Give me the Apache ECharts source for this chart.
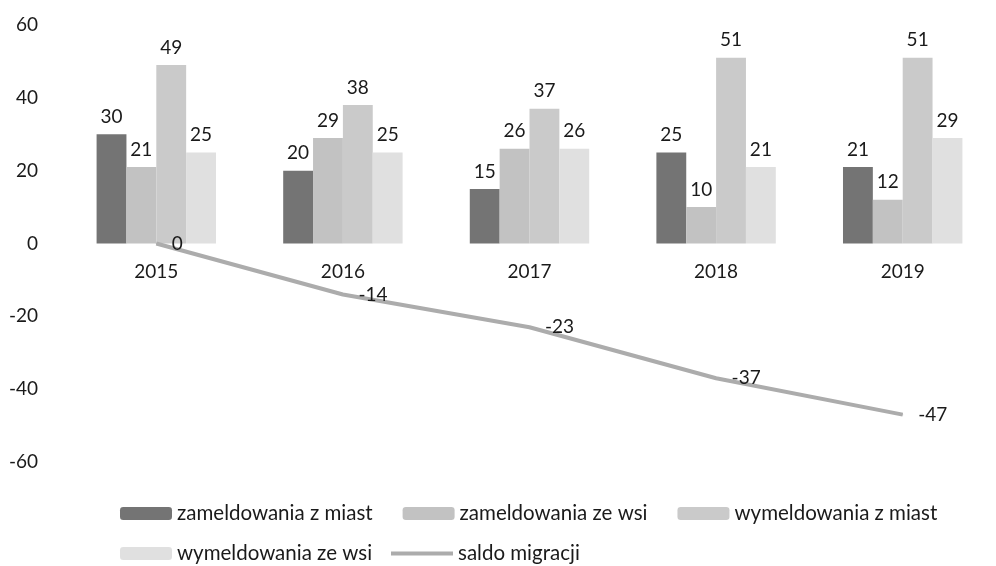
<!DOCTYPE html>
<html><head><meta charset="utf-8">
<script src="https://cdn.jsdelivr.net/npm/echarts@6/dist/echarts.min.js"></script>
<style>html,body{margin:0;padding:0;background:#fff}#c{width:996px;height:566px}</style>
</head><body><div id="c"></div>
<script>
const years = ['2015','2016','2017','2018','2019'];
const zamMiast = [30,20,15,25,21];
const zamWies = [21,29,26,10,12];
const wymMiast = [49,38,37,51,51];
const wymWies = [25,25,26,21,29];
const saldo = [0,-14,-23,-37,-47];
const yTicks = {min:-60,max:60,interval:20};

const FONT = 'Lato';
const FS = 19;
const chart = echarts.init(document.getElementById('c'));
const lbl = {show:true,position:'top',fontSize:FS,color:'#1a1a1a',fontFamily:FONT,distance:8};
function bar(name,data,color){
  return {name,type:'bar',data,barGap:'0%',barCategoryGap:'36%',itemStyle:{color},label:lbl};
}
const legText = {fontSize:20.5,color:'#1a1a1a',fontFamily:FONT};
chart.setOption({
  animation:false,
  textStyle:{fontFamily:FONT},
  grid:{left:63,top:25,width:970,height:437},
  xAxis:{type:'category',data:years,axisLine:{show:false},axisTick:{show:false},
    axisLabel:{fontSize:FS,color:'#1a1a1a',fontFamily:FONT,margin:0,
      verticalAlign:'top', padding:[20,0,0,0]},
    position:'bottom', offset:-220},
  yAxis:{type:'value',min:yTicks.min,max:yTicks.max,interval:yTicks.interval,
    axisLine:{show:false},axisTick:{show:false},splitLine:{show:false},
    axisLabel:{fontSize:FS,color:'#1a1a1a',fontFamily:FONT,margin:25}},
  legend:[
    {left:115,top:498,itemWidth:52,itemHeight:13,itemGap:30,textStyle:legText,
     data:['zameldowania z miast','zameldowania ze wsi','wymeldowania z miast']},
    {left:115,top:538,itemWidth:52,itemHeight:13,itemGap:8,textStyle:legText,
     data:['wymeldowania ze wsi']},
    {left:386,top:538,itemWidth:62,itemHeight:4,itemGap:8,textStyle:legText,
     data:[{name:'saldo migracji',icon:'rect'}]}
  ],
  series:[
    bar('zameldowania z miast',zamMiast,'#747474'),
    bar('zameldowania ze wsi',zamWies,'#c2c2c2'),
    bar('wymeldowania z miast',wymMiast,'#cacaca'),
    bar('wymeldowania ze wsi',wymWies,'#e0e0e0'),
    {name:'saldo migracji',type:'line',data:saldo,symbol:'circle',symbolSize:1,
     lineStyle:{color:'#acacac',width:4},itemStyle:{color:'#acacac'},
     label:{show:true,position:'right',fontSize:FS,color:'#1a1a1a',fontFamily:FONT,distance:15}}
  ]
});
</script></body></html>
